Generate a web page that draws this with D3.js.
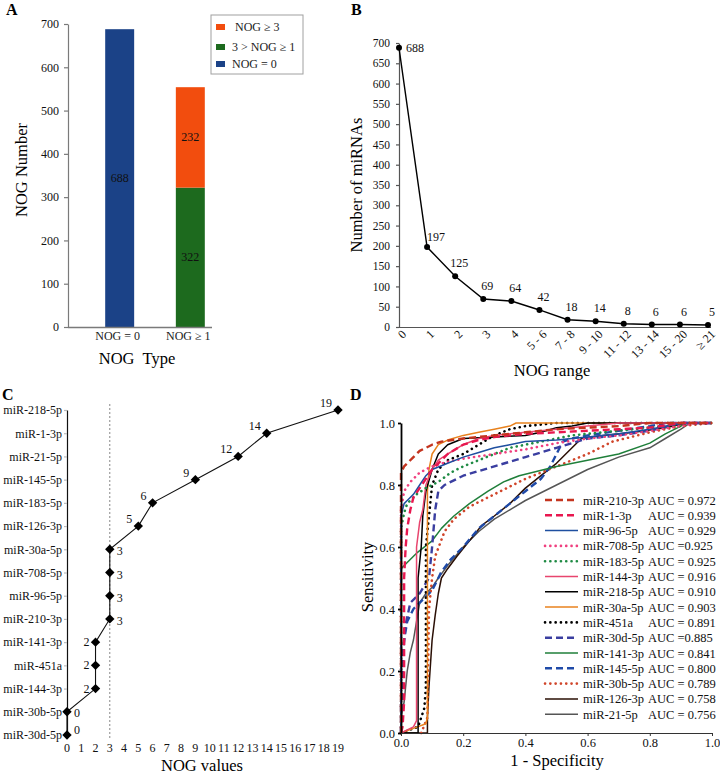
<!DOCTYPE html>
<html><head><meta charset="utf-8">
<script src="https://cdn.jsdelivr.net/npm/d3@7"></script>
<style>
body{margin:0;background:#fff}
svg{display:block;font-family:"Liberation Serif","Times New Roman",serif}
</style>
</head><body><svg id="c" width="720" height="776"></svg>
<script>
// ---------- Panel A data ----------
const typeCats = ["NOG = 0", "NOG ≥ 1"];
const seriesZero = [688, 0];
const seriesMid = [0, 322];
const seriesHigh = [0, 232];
const legendALabels = ["NOG ≥ 3", "3 > NOG ≥ 1", "NOG = 0"];
const ticksA = [0, 100, 200, 300, 400, 500, 600, 700];

// ---------- Panel B data ----------
const rangeCats = ["0", "1", "2", "3", "4", "5 - 6", "7 - 8", "9 - 10", "11 - 12", "13 - 14", "15 - 20", "≥ 21"];
const rangeCounts = [688, 197, 125, 69, 64, 42, 18, 14, 8, 6, 6, 5];
const ticksB = [0, 50, 100, 150, 200, 250, 300, 350, 400, 450, 500, 550, 600, 650, 700];

// ---------- Panel C data ----------
const mirNames = ["miR-218-5p", "miR-1-3p", "miR-21-5p", "miR-145-5p", "miR-183-5p", "miR-126-3p", "miR-30a-5p", "miR-708-5p", "miR-96-5p", "miR-210-3p", "miR-141-3p", "miR-451a", "miR-144-3p", "miR-30b-5p", "miR-30d-5p"];
const nogValues = [19, 14, 12, 9, 6, 5, 3, 3, 3, 3, 2, 2, 2, 0, 0];
const ticksC = [0,1,2,3,4,5,6,7,8,9,10,11,12,13,14,15,16,17,18,19];

// ---------- Panel D data ----------
const rocNames = ["miR-210-3p", "miR-1-3p", "miR-96-5p", "miR-708-5p", "miR-183-5p", "miR-144-3p", "miR-218-5p", "miR-30a-5p", "miR-451a", "miR-30d-5p", "miR-141-3p", "miR-145-5p", "miR-30b-5p", "miR-126-3p", "miR-21-5p"];
const rocAUC = [0.972, 0.939, 0.929, 0.925, 0.925, 0.916, 0.910, 0.903, 0.891, 0.885, 0.841, 0.800, 0.789, 0.758, 0.756];
const ticksD = [0, 0.2, 0.4, 0.6, 0.8, 1.0];

const roc210 = [[0,0],[0,0.84],[0.01,0.86],[0.02,0.87],[0.04,0.89],[0.06,0.91],[0.08,0.92],[0.1,0.93],[0.13,0.94],[0.2,0.95],[0.3,0.96],[0.4,0.97],[0.5,0.98],[0.6,0.985],[0.7,0.99],[0.8,1],[1,1]];
const roc1 = [[0,0],[0.005,0.02],[0.01,0.1],[0.01,0.5],[0.015,0.6],[0.02,0.66],[0.03,0.72],[0.04,0.76],[0.06,0.79],[0.08,0.82],[0.1,0.85],[0.12,0.87],[0.15,0.9],[0.2,0.93],[0.25,0.945],[0.3,0.955],[0.4,0.965],[0.5,0.97],[0.6,0.975],[0.7,0.98],[0.8,0.985],[0.9,1],[1,1]];
const roc96 = [[0,0],[0,0.7],[0.005,0.72],[0.01,0.74],[0.02,0.75],[0.04,0.77],[0.06,0.8],[0.08,0.83],[0.1,0.85],[0.15,0.87],[0.2,0.89],[0.25,0.905],[0.3,0.92],[0.35,0.93],[0.4,0.94],[0.5,0.945],[0.6,0.955],[0.7,0.965],[0.8,0.98],[0.88,0.995],[0.92,1],[1,1]];
const roc708 = [[0,0],[0,0.72],[0.01,0.78],[0.03,0.81],[0.06,0.84],[0.1,0.86],[0.15,0.875],[0.2,0.885],[0.3,0.9],[0.4,0.915],[0.5,0.935],[0.6,0.95],[0.7,0.96],[0.8,0.975],[0.9,0.99],[0.95,1],[1,1]];
const roc183 = [[0,0],[0,0.66],[0.01,0.71],[0.02,0.74],[0.05,0.77],[0.08,0.79],[0.12,0.81],[0.16,0.84],[0.2,0.86],[0.25,0.88],[0.3,0.9],[0.35,0.92],[0.45,0.94],[0.55,0.96],[0.65,0.97],[0.75,0.98],[0.85,0.99],[0.9,1],[1,1]];
const roc144 = [[0,0],[0.02,0.01],[0.04,0.02],[0.05,0.04],[0.05,0.6],[0.06,0.68],[0.07,0.72],[0.08,0.8],[0.1,0.85],[0.12,0.88],[0.15,0.9],[0.2,0.93],[0.25,0.95],[0.3,0.96],[0.4,0.97],[0.5,0.98],[0.6,0.99],[0.7,1],[1,1]];
const roc218 = [[0,0],[0.055,0],[0.055,0.5],[0.065,0.6],[0.07,0.7],[0.08,0.78],[0.1,0.85],[0.12,0.9],[0.15,0.93],[0.2,0.95],[0.3,0.955],[0.4,0.96],[0.45,0.97],[0.5,0.985],[0.55,0.99],[0.6,1],[1,1]];
const roc30a = [[0,0],[0.04,0.015],[0.08,0.03],[0.085,0.05],[0.085,0.78],[0.09,0.85],[0.1,0.9],[0.12,0.93],[0.15,0.945],[0.2,0.96],[0.25,0.97],[0.3,0.98],[0.35,0.99],[0.37,1],[1,1]];
const roc451 = [[0,0],[0.055,0.02],[0.065,0.05],[0.075,0.08],[0.08,0.15],[0.08,0.6],[0.09,0.7],[0.1,0.8],[0.12,0.85],[0.15,0.88],[0.2,0.9],[0.25,0.93],[0.3,0.96],[0.35,0.98],[0.4,0.99],[0.5,1],[1,1]];
const roc30d = [[0,0],[0.005,0.25],[0.015,0.35],[0.03,0.42],[0.06,0.45],[0.09,0.5],[0.1,0.6],[0.11,0.72],[0.12,0.78],[0.14,0.8],[0.2,0.83],[0.3,0.86],[0.4,0.89],[0.5,0.92],[0.6,0.95],[0.7,0.96],[0.8,0.975],[0.9,1],[1,1]];
const roc141 = [[0,0],[0,0.53],[0.02,0.55],[0.05,0.58],[0.1,0.62],[0.13,0.66],[0.17,0.7],[0.22,0.74],[0.28,0.78],[0.33,0.81],[0.38,0.83],[0.5,0.86],[0.6,0.88],[0.7,0.9],[0.8,0.935],[0.85,0.965],[0.9,0.99],[0.92,1],[1,1]];
const roc145 = [[0,0],[0,0.1],[0.005,0.2],[0.01,0.3],[0.02,0.36],[0.04,0.4],[0.07,0.43],[0.1,0.46],[0.13,0.52],[0.16,0.56],[0.2,0.6],[0.25,0.66],[0.3,0.7],[0.35,0.74],[0.4,0.78],[0.45,0.82],[0.48,0.86],[0.5,0.9],[0.52,0.94],[0.55,0.95],[0.6,0.96],[0.7,0.975],[0.8,0.99],[0.85,1],[1,1]];
const roc30b = [[0.065,0],[0.085,0.05],[0.09,0.4],[0.1,0.5],[0.11,0.57],[0.14,0.65],[0.17,0.69],[0.22,0.73],[0.3,0.77],[0.4,0.82],[0.5,0.86],[0.6,0.9],[0.68,0.94],[0.8,0.97],[0.9,0.99],[1,1]];
const roc126 = [[0,0],[0.085,0],[0.085,0.05],[0.09,0.15],[0.1,0.3],[0.11,0.38],[0.12,0.45],[0.13,0.5],[0.15,0.53],[0.18,0.57],[0.22,0.62],[0.26,0.67],[0.3,0.7],[0.35,0.74],[0.4,0.79],[0.45,0.83],[0.5,0.87],[0.55,0.92],[0.58,0.95],[0.65,0.96],[0.75,0.97],[0.85,0.985],[0.92,1],[1,1]];
const roc21 = [[0,0],[0,0.05],[0.01,0.1],[0.02,0.2],[0.03,0.26],[0.04,0.3],[0.05,0.36],[0.06,0.42],[0.08,0.45],[0.1,0.47],[0.12,0.5],[0.15,0.54],[0.2,0.6],[0.25,0.65],[0.3,0.69],[0.35,0.72],[0.4,0.75],[0.5,0.8],[0.6,0.85],[0.7,0.89],[0.8,0.92],[0.85,0.95],[0.9,0.98],[0.93,1],[1,1]];
const rocCurves = [roc210, roc1, roc96, roc708, roc183, roc144, roc218, roc30a, roc451, roc30d, roc141, roc145, roc30b, roc126, roc21];

// ---------- drawing ----------
const FONT = '"Liberation Serif","Times New Roman",serif';
const svg = d3.select("#c");

function styleAxis(g, color, fs, sw) {
  g.attr("font-family", FONT);
  g.selectAll("path,line").attr("stroke", color).attr("stroke-width", sw || 1);
  g.selectAll("text").attr("font-size", fs).attr("fill", "#111");
}
function letter(t, x, y) {
  svg.append("text").attr("x", x).attr("y", y).attr("font-size", 16).attr("font-weight", "bold").text(t);
}

// ===== Panel A =====
{
  const g = svg.append("g");
  const yA = d3.scaleLinear().domain([0, 700]).range([327, 24]);
  const xA = d3.scaleBand().domain(typeCats).range([84, 226]).paddingInner(0.59).paddingOuter(0.3);
  const table = typeCats.map((c, i) => ({cat: c, zero: seriesZero[i], mid: seriesMid[i], high: seriesHigh[i]}));
  const keys = ["zero", "mid", "high"];
  const colors = {zero: "#1b4287", mid: "#1d6a1e", high: "#f24d0e"};
  const stacked = d3.stack().keys(keys)(table);
  stacked.forEach(layer => {
    g.selectAll(null).data(layer.filter(d => d[1] > d[0])).enter().append("rect")
      .attr("x", d => xA(d.data.cat)).attr("width", xA.bandwidth())
      .attr("y", d => yA(d[1])).attr("height", d => yA(d[0]) - yA(d[1]))
      .attr("fill", colors[layer.key]);
    g.selectAll(null).data(layer.filter(d => d[1] > d[0])).enter().append("text")
      .attr("x", d => xA(d.data.cat) + xA.bandwidth() / 2)
      .attr("y", d => yA((d[0] + d[1]) / 2) + 4)
      .attr("text-anchor", "middle").attr("font-size", 12).attr("fill", "#111")
      .text(d => d[1] - d[0]);
  });
  const ax = g.append("g").attr("transform", "translate(68,0)")
    .call(d3.axisLeft(yA).tickValues(ticksA).tickSize(4).tickPadding(5).tickSizeOuter(0));
  styleAxis(ax, "#7a7a7a", 12, 1.2);
  g.append("line").attr("x1", 68).attr("x2", 212).attr("y1", 327.5).attr("y2", 327.5).attr("stroke", "#7a7a7a").attr("stroke-width", 1.5);
  typeCats.forEach(c => {
    g.append("text").attr("x", xA(c) + xA.bandwidth() / 2 - 2).attr("y", 340)
      .attr("text-anchor", "middle").attr("font-size", 12).attr("fill", "#222").text(c);
  });
  g.append("text").attr("transform", "translate(27,170) rotate(-90)").attr("text-anchor", "middle")
    .attr("font-size", 16.5).text("NOG Number");
  g.append("text").attr("x", 137).attr("y", 364).attr("text-anchor", "middle")
    .attr("font-size", 16.5).attr("style", "white-space:pre").text("NOG  Type");
  // legend
  g.append("rect").attr("x", 211).attr("y", 15).attr("width", 92).attr("height", 59)
    .attr("fill", "#fff").attr("stroke", "#a0a0a0");
  const legKeys = ["high", "mid", "zero"];
  const legY = [27, 47, 64];
  const legX = [235, 232, 232];
  legKeys.forEach((k, i) => {
    g.append("rect").attr("x", 216).attr("y", legY[i] - 3).attr("width", 9).attr("height", 6).attr("fill", colors[k]);
    g.append("text").attr("x", legX[i]).attr("y", legY[i] + 4).attr("font-size", 12).attr("fill", "#222").text(legendALabels[i]);
  });
  letter("A", 6, 15);
}

// ===== Panel B =====
{
  const g = svg.append("g");
  const yB = d3.scaleLinear().domain([0, 700]).range([327, 43]);
  const xB = d3.scalePoint().domain(rangeCats).range([399, 708]);
  const ax = g.append("g").attr("transform", "translate(399,0)")
    .call(d3.axisLeft(yB).tickValues(ticksB).tickSize(3).tickPadding(6).tickSizeOuter(0));
  styleAxis(ax, "#555", 11.5, 1.2);
  g.append("line").attr("x1", 399).attr("x2", 711).attr("y1", 327.5).attr("y2", 327.5).attr("stroke", "#555").attr("stroke-width", 1.2);
  rangeCats.forEach(c => {
    g.append("text").attr("transform", `translate(${xB(c) + 5},332) rotate(-45)`)
      .attr("text-anchor", "end").attr("dy", "0.35em").attr("font-size", 12).attr("fill", "#111").text(c);
  });
  const pts = rangeCats.map((c, i) => [c, rangeCounts[i]]);
  g.append("path").datum(pts).attr("fill", "none").attr("stroke", "#000").attr("stroke-width", 1.4)
    .attr("d", d3.line().x(d => xB(d[0])).y(d => yB(d[1])));
  g.selectAll(null).data(pts).enter().append("circle")
    .attr("cx", d => xB(d[0])).attr("cy", d => yB(d[1])).attr("r", 3).attr("fill", "#000");
  g.selectAll(null).data(pts).enter().append("text")
    .attr("x", (d, i) => i === 0 ? xB(d[0]) + 7 : i === 1 ? xB(d[0]) : xB(d[0]) + 4)
    .attr("y", (d, i) => i === 0 ? yB(d[1]) + 4 : i === 1 ? yB(d[1]) - 6 : yB(d[1]) - 9)
    .attr("text-anchor", (d, i) => i <= 1 ? "start" : "middle")
    .attr("font-size", 12).attr("fill", "#111").text(d => d[1]);
  g.append("text").attr("transform", "translate(362,185) rotate(-90)").attr("text-anchor", "middle")
    .attr("font-size", 16.5).text("Number of miRNAs");
  g.append("text").attr("x", 552).attr("y", 376).attr("text-anchor", "middle").attr("font-size", 16.5).text("NOG range");
  letter("B", 351, 15);
}

// ===== Panel C =====
{
  const g = svg.append("g");
  const xC = d3.scaleLinear().domain([0, 19]).range([67, 338]);
  const yC = d3.scalePoint().domain(mirNames).range([410, 735]);
  g.append("line").attr("x1", xC(3)).attr("x2", xC(3)).attr("y1", 404).attr("y2", 740)
    .attr("stroke", "#888").attr("stroke-width", 1).attr("stroke-dasharray", "2,2");
  const ax = g.append("g").attr("transform", "translate(67,0)")
    .call(d3.axisLeft(yC).tickSize(3).tickPadding(2).tickSizeOuter(0));
  styleAxis(ax, "#111", 12, 1.2);
  ax.selectAll(".tick line").attr("stroke", "#bbb");
  ticksC.forEach(v => {
    g.append("text").attr("x", xC(v)).attr("y", 752).attr("text-anchor", "middle")
      .attr("font-size", 12).attr("fill", "#111").text(v);
  });
  const pts = mirNames.map((n, i) => [n, nogValues[i]]);
  g.append("path").datum(pts).attr("fill", "none").attr("stroke", "#111").attr("stroke-width", 1.1)
    .attr("d", d3.line().x(d => xC(d[1])).y(d => yC(d[0])));
  const sym = d3.symbol().type(d3.symbolSquare).size(44);
  g.selectAll(null).data(pts).enter().append("path").attr("d", sym)
    .attr("transform", d => `translate(${xC(d[1])},${yC(d[0])}) rotate(45)`).attr("fill", "#000");
  g.selectAll(null).data(pts).enter().append("text")
    .attr("x", d => (d[1] === 3 || d[1] === 0) ? xC(d[1]) + 7 : xC(d[1]) - 6)
    .attr("y", (d, i) => {
      const y = yC(d[0]);
      if (d[1] === 3) return y + 6;
      if (d[1] === 0) return i === pts.length - 1 ? y - 1 : y + 5;
      if (d[1] === 2) return y + 4;
      return y - 3;
    })
    .attr("text-anchor", d => (d[1] === 3 || d[1] === 0) ? "start" : "end")
    .attr("font-size", 12).attr("fill", "#111").text(d => d[1]);
  g.append("text").attr("x", 202).attr("y", 771).attr("text-anchor", "middle").attr("font-size", 16.5).text("NOG values");
  letter("C", 2, 400);
}

// ===== Panel D =====
{
  const g = svg.append("g");
  const xD = d3.scaleLinear().domain([0, 1]).range([401, 712]);
  const yD = d3.scaleLinear().domain([0, 1]).range([733, 423]);
  const styles = [
    {c: "#c4341f", t: "dash"}, {c: "#e8174f", t: "dash"}, {c: "#1f4fa0", t: "solid"},
    {c: "#f0407f", t: "dot"}, {c: "#1e8a43", t: "dot"}, {c: "#e8456e", t: "solid"},
    {c: "#000000", t: "solid"}, {c: "#e8821e", t: "solid"}, {c: "#000000", t: "dot"},
    {c: "#3a3ea0", t: "dash"}, {c: "#1f7f3a", t: "solid"}, {c: "#1f4aa8", t: "dash"},
    {c: "#d0452a", t: "dot"}, {c: "#2a0f05", t: "solid"}, {c: "#555555", t: "solid"}
  ];
  function applyStyle(sel, s) {
    sel.attr("stroke", s.c).attr("fill", "none");
    if (s.t === "dash") sel.attr("stroke-width", 2.4).attr("stroke-dasharray", "7,4");
    else if (s.t === "dot") sel.attr("stroke-width", 2.6).attr("stroke-dasharray", "0.1,5.2").attr("stroke-linecap", "round");
    else sel.attr("stroke-width", 1.5);
  }
  const line = d3.line().x(d => xD(d[0])).y(d => yD(d[1]));
  for (let i = rocCurves.length - 1; i >= 0; i--) {
    applyStyle(g.append("path").datum(rocCurves[i]).attr("d", line).attr("stroke-linejoin", "round"), styles[i]);
  }
  const axY = g.append("g").attr("transform", "translate(401,0)")
    .call(d3.axisLeft(yD).tickValues(ticksD).tickFormat(d3.format(".1f")).tickSize(3).tickPadding(3).tickSizeOuter(0));
  styleAxis(axY, "#000", 12.5, 1.8);
  const axX = g.append("g").attr("transform", "translate(0,733)")
    .call(d3.axisBottom(xD).tickValues(ticksD).tickFormat(d3.format(".1f")).tickSize(3).tickPadding(2).tickSizeOuter(0));
  styleAxis(axX, "#333", 12.5, 1);
  // legend
  rocNames.forEach((n, i) => {
    const y = 500 + i * 15.3;
    applyStyle(g.append("line").attr("x1", 545).attr("x2", 578).attr("y1", y).attr("y2", y), styles[i]);
    g.append("text").attr("x", 583).attr("y", y + 4.5).attr("font-size", 12.5).attr("fill", "#111").text(n);
    const sp = (i === 3 || i === 9) ? "AUC =" : "AUC = ";
    g.append("text").attr("x", 648).attr("y", y + 4.5).attr("font-size", 12.5).attr("fill", "#111")
      .attr("style", "white-space:pre")
      .text(sp + d3.format(".3f")(rocAUC[i]));
  });
  g.append("text").attr("transform", "translate(373,577) rotate(-90)").attr("text-anchor", "middle")
    .attr("font-size", 16.5).text("Sensitivity");
  g.append("text").attr("x", 557).attr("y", 766).attr("text-anchor", "middle").attr("font-size", 16.5).text("1 - Specificity");
  letter("D", 350, 400);
}
</script>
</body></html>
